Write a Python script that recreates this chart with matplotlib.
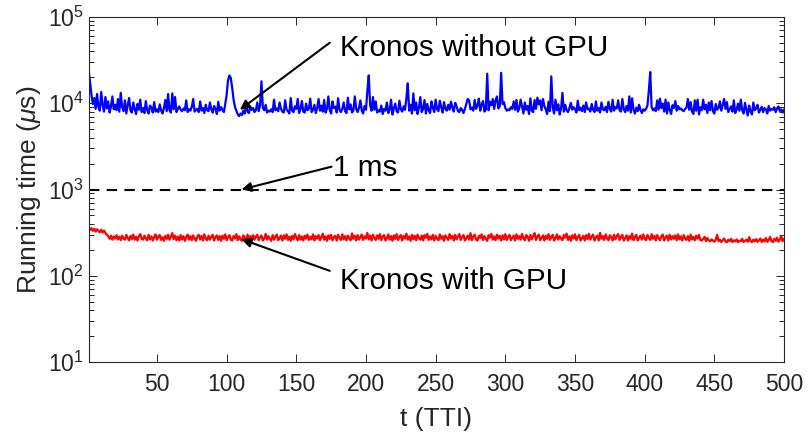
import numpy as np
import matplotlib
matplotlib.use("Agg")
import matplotlib.pyplot as plt
from matplotlib.ticker import LogLocator, NullFormatter

plt.rcParams['font.family'] = ['Liberation Sans', 'DejaVu Sans']
plt.rcParams['mathtext.fontset'] = 'custom'
plt.rcParams['mathtext.rm'] = 'Liberation Sans'
plt.rcParams['mathtext.it'] = 'Liberation Sans:italic'

# running time per TTI (us), t = 1..500
kronos_cpu = [
    24000, 17500, 12500, 9800, 11500, 8600, 12800, 9000, 8200, 13500, 9500, 8000, 11800, 8700, 10500, 7800, 9200, 12000, 8500, 9600,
    8300, 11200, 8000, 13200, 9000, 8100, 10800, 7600, 9500, 11500, 8200, 7800, 10200, 8600, 7500, 9800, 8400, 11000, 7900, 8800,
    7700, 10600, 8300, 7600, 9400, 8900, 7800, 10300, 8000, 8500, 7900, 9700, 8200, 7600, 8800, 10900, 8100, 12800, 8300, 7800,
    13000, 8500, 11800, 7900, 8600, 9200, 8400, 8100, 8700, 8300, 10800, 7900, 8500, 8200, 9100, 11200, 8000, 8400, 8600, 7900,
    10500, 8200, 8800, 7700, 9600, 8300, 8100, 10200, 8500, 7800, 9300, 8600, 7500, 10400, 8200, 9000, 8400, 7900, 9800, 12500,
    18500, 21000, 19500, 15000, 11000, 9000, 8200, 7400, 7100, 7600, 7300, 8200, 7600, 9800, 8000, 7700, 9100, 8400, 8800, 7900,
    8300, 10200, 8100, 9500, 18000, 8800, 8300, 9600, 7800, 8200, 8000, 8500, 7900, 11000, 8300, 8700, 8100, 10200, 8600, 8000,
    7800, 10800, 8400, 8100, 7600, 11500, 8200, 7900, 9200, 8600, 11200, 7700, 8500, 10600, 8000, 7800, 9900, 8300, 8600, 11300,
    7900, 8400, 9600, 7700, 8800, 11200, 8200, 9400, 8000, 10900, 7800, 8600, 12000, 8300, 7600, 10500, 8800, 9100, 7800, 11400,
    8400, 7900, 8600, 10200, 8100, 7700, 11600, 8500, 9700, 7800, 8300, 12000, 8600, 7900, 8900, 10800, 8200, 7600, 9300, 8400,
    14000, 21000, 9500, 8200, 11800, 8400, 10500, 7800, 8300, 8000, 9400, 7500, 8600, 8200, 10200, 7700, 8400, 11000, 7400, 8700,
    9900, 8100, 7800, 10700, 8500, 8000, 9200, 8400, 11400, 17000, 8200, 9600, 7600, 13000, 8300, 10200, 7500, 8900, 11800, 7900,
    8600, 10900, 7600, 9800, 8300, 7700, 10500, 8800, 7900, 11000, 8500, 8100, 10700, 9000, 7800, 10300, 8600, 8200, 9600, 8400,
    10400, 8900, 8000, 10100, 9300, 8100, 7900, 8800, 8400, 7700, 8600, 9800, 11200, 10800, 8500, 8900, 8200, 10900, 8600, 9400,
    11300, 8200, 9700, 10600, 8000, 8400, 22000, 8300, 10400, 9500, 11200, 8600, 10800, 12000, 8700, 9200, 22500, 9800, 10300, 8800,
    8200, 8500, 8300, 9000, 8600, 10500, 8400, 10900, 8000, 8700, 11000, 9100, 7600, 10200, 8400, 9300, 7500, 11400, 8200, 7900,
    10900, 8600, 11600, 9700, 10800, 8300, 11200, 9300, 8500, 7500, 10400, 8100, 20500, 9000, 7600, 11000, 8300, 9700, 7400, 8600,
    13200, 8000, 9600, 8300, 7900, 8800, 10100, 8400, 9000, 8600, 7800, 10700, 8300, 8900, 8100, 9400, 7900, 10200, 8500, 8700,
    8000, 9800, 8400, 7900, 10500, 8200, 8800, 7800, 10200, 8500, 8300, 9100, 7900, 10400, 8600, 8000, 11000, 8200, 9000, 8700,
    10800, 8300, 8000, 11200, 8500, 7900, 9300, 8200, 12000, 7800, 11400, 8400, 7600, 8900, 8100, 9600, 8300, 7700, 8500, 8200,
    8600, 9400, 14000, 23000, 9000, 8300, 8700, 8100, 10800, 8400, 11300, 8800, 9900, 8000, 11000, 7600, 10200, 8300, 7500, 9500,
    8800, 10600, 8200, 9300, 8500, 8700, 8300, 8100, 8600, 8900, 11200, 8400, 10300, 8000, 7500, 10800, 8200, 11000, 7400, 9000,
    8300, 11000, 8500, 9600, 7700, 10200, 8300, 10600, 8100, 7600, 9800, 8400, 8800, 10500, 8200, 9500, 11200, 8600, 10300, 7900,
    8500, 9200, 8000, 10800, 7700, 8400, 9900, 8200, 11000, 8300, 7600, 10100, 8500, 7200, 9400, 8100, 7400, 10200, 8300, 8700,
    9600, 7800, 8400, 9100, 7900, 8800, 8500, 7600, 9300, 8200, 8600, 8400, 9000, 7900, 8700, 9200, 8100, 8500, 7800, 8400,
]

kronos_gpu = [
    365, 340, 356, 332, 350, 326, 346, 330, 320, 342, 318, 334, 312, 300, 288, 268, 292, 262, 286, 270,
    296, 264, 284, 258, 292, 270, 262, 298, 274, 258, 290, 266, 300, 262, 284, 256, 288, 304, 268, 262,
    292, 270, 258, 298, 264, 286, 256, 282, 302, 262, 284, 296, 260, 280, 254, 290, 268, 300, 262, 284,
    312, 266, 292, 258, 284, 256, 296, 264, 288, 254, 280, 300, 262, 288, 258, 294, 270, 254, 286, 298,
    264, 290, 256, 302, 270, 258, 292, 262, 284, 298, 256, 280, 294, 260, 288, 254, 292, 268, 302, 258,
    282, 296, 262, 256, 290, 270, 304, 258, 286, 264, 254, 294, 276, 260, 300, 266, 288, 256, 296, 262,
    286, 298, 258, 280, 292, 256, 270, 306, 262, 288, 268, 254, 296, 262, 284, 300, 258, 272, 292, 256,
    294, 268, 302, 260, 284, 254, 290, 264, 304, 278, 258, 296, 262, 286, 256, 292, 270, 300, 260, 282,
    264, 302, 256, 288, 270, 296, 258, 280, 308, 262, 286, 254, 294, 268, 298, 258, 282, 290, 256, 298,
    276, 260, 302, 264, 288, 256, 292, 270, 258, 310, 268, 290, 256, 296, 262, 282, 300, 260, 286, 270,
    314, 264, 292, 256, 298, 276, 260, 294, 268, 304, 258, 286, 296, 256, 272, 302, 262, 288, 254, 294,
    268, 304, 260, 282, 296, 256, 290, 270, 308, 262, 286, 254, 298, 264, 290, 258, 300, 272, 262, 292,
    256, 296, 276, 306, 260, 286, 264, 298, 256, 290, 270, 258, 302, 268, 288, 254, 294, 276, 260, 304,
    270, 290, 256, 298, 264, 286, 304, 260, 282, 296, 256, 272, 292, 262, 312, 258, 286, 300, 264, 256,
    292, 274, 302, 260, 288, 268, 254, 296, 276, 306, 262, 286, 258, 300, 270, 290, 256, 294, 264, 304,
    260, 282, 298, 258, 278, 292, 256, 302, 268, 288, 262, 306, 272, 258, 296, 284, 254, 298, 264, 290,
    312, 260, 286, 300, 258, 276, 294, 256, 290, 268, 304, 260, 282, 298, 256, 272, 302, 262, 288, 270,
    258, 298, 276, 308, 260, 286, 254, 294, 270, 302, 258, 282, 298, 256, 272, 290, 256, 296, 266, 306,
    262, 286, 300, 256, 278, 292, 256, 314, 268, 288, 260, 302, 272, 258, 294, 280, 256, 298, 264, 290,
    304, 260, 284, 298, 256, 272, 294, 256, 288, 268, 308, 258, 282, 298, 256, 276, 292, 262, 302, 270,
    258, 296, 276, 260, 304, 268, 290, 256, 296, 272, 258, 286, 300, 256, 278, 292, 256, 298, 264, 288,
    268, 294, 258, 302, 264, 286, 256, 296, 272, 260, 288, 254, 300, 264, 282, 258, 292, 270, 298, 260,
    256, 268, 282, 252, 274, 258, 250, 264, 256, 248, 262, 298, 252, 262, 246, 258, 270, 250, 244, 262,
    252, 268, 246, 258, 250, 264, 244, 256, 252, 268, 246, 254, 262, 248, 280, 252, 246, 262, 250, 266,
    248, 258, 270, 246, 262, 250, 274, 248, 260, 282, 252, 246, 268, 254, 276, 248, 262, 290, 252, 266,
]

one_ms = 1000
t = np.arange(1, len(kronos_cpu) + 1)

fig = plt.figure(figsize=(8.07, 4.38), dpi=100)
ax = fig.add_axes([0.1099, 0.1735, 0.8616, 0.7877])

ax.semilogy(t, kronos_cpu, color='#0000ff', lw=1.6)
ax.semilogy(t, kronos_gpu, color='#ff0000', lw=1.6)
ax.axhline(one_ms, color='black', lw=1.5, ls=(0, (5, 3.5)))

ax.set_xlim(1, 500)
ax.set_ylim(10, 1e5)
ax.set_xticks(np.arange(50, 501, 50))
ax.yaxis.set_major_locator(LogLocator(base=10, numticks=10))
ax.yaxis.set_minor_locator(LogLocator(base=10, subs=np.arange(2, 10), numticks=10))
ax.yaxis.set_minor_formatter(NullFormatter())

edge = '#262626'
for s in ax.spines.values():
    s.set_color(edge)
    s.set_linewidth(0.8)
ax.tick_params(which='both', direction='in', top=True, right=True, colors=edge,
               labelcolor='#262626', labelsize=16.5, width=0.7)
ax.tick_params(which='major', length=6)
ax.tick_params(which='minor', length=3.5)
ax.tick_params(axis='x', pad=8)

ax.set_xlabel('t (TTI)', fontsize=19, color='#262626', labelpad=8)
ax.set_ylabel(r'Running time ($\mu$s)', fontsize=19, color='#262626', labelpad=3)

# arrows and their labels
arrow = dict(arrowstyle='-|>', color='black', lw=1.5, mutation_scale=14, shrinkA=0, shrinkB=0)
ax.annotate('', xy=(109.5, 8400), xytext=(174, 50300), arrowprops=arrow)
ax.annotate('', xy=(110.7, 1000), xytext=(175.3, 1840), arrowprops=arrow)
ax.annotate('', xy=(110.7, 265), xytext=(174, 114), arrowprops=arrow)
ax.text(181.3, 47300, 'Kronos without GPU', fontsize=21.3, va='center_baseline', ha='left')
ax.text(176.2, 1920, '1 ms', fontsize=21.3, va='center_baseline', ha='left')
ax.text(181.3, 94, 'Kronos with GPU', fontsize=21.3, va='center_baseline', ha='left')

fig.savefig('out.png', dpi=100)
